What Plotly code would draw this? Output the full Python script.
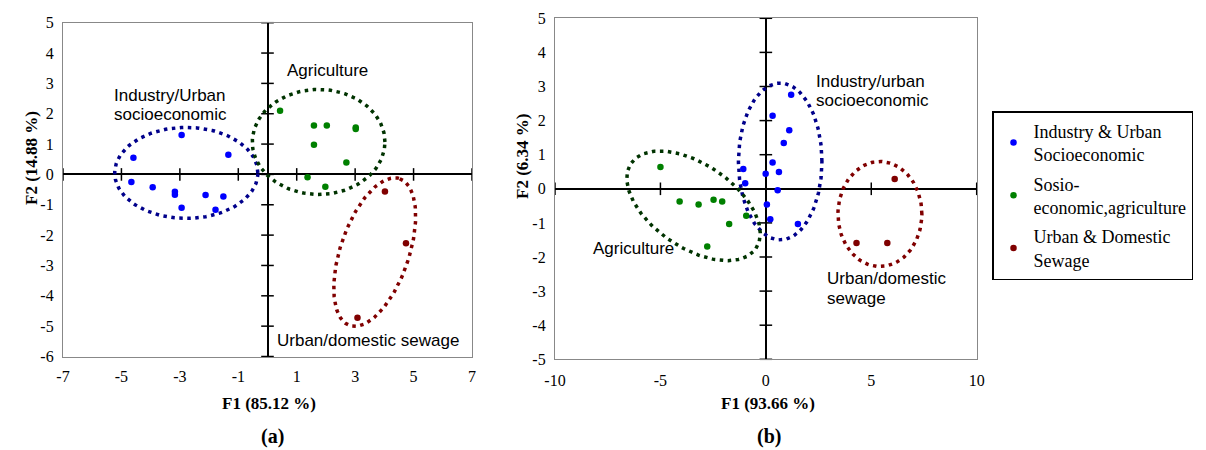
import numpy as np
import plotly.graph_objects as go

# ---------------- data ----------------
# Panel (a)
a_ind_x = [-4.59, -2.94, -1.34, -4.66, -3.93, -3.17, -3.17, -2.12, -1.51, -2.94, -1.78]
a_ind_y = [0.55, 1.30, 0.65, -0.25, -0.42, -0.57, -0.67, -0.68, -0.73, -1.10, -1.16]
a_agr_x = [0.43, 1.59, 2.03, 3.02, 3.02, 1.59, 2.70, 1.37, 1.98]
a_agr_y = [2.10, 1.61, 1.61, 1.55, 1.50, 0.98, 0.39, -0.09, -0.41]
a_sew_x = [4.02, 4.74, 3.08]
a_sew_y = [-0.56, -2.27, -4.72]

# Panel (b)
b_ind_x = [1.20, 0.32, 1.11, 0.85, 0.32, 0.62, -0.01, -1.07, -0.98, 0.56, 0.05, 0.21, 1.52]
b_ind_y = [2.76, 2.14, 1.72, 1.34, 0.77, 0.49, 0.44, 0.58, 0.16, -0.04, -0.46, -0.89, -1.03]
b_agr_x = [-5.00, -4.09, -3.19, -2.48, -2.07, -1.74, -0.93, -2.78]
b_agr_y = [0.64, -0.37, -0.46, -0.32, -0.37, -1.03, -0.79, -1.69]
b_sew_x = [6.11, 4.30, 5.76]
b_sew_y = [0.29, -1.59, -1.59]

series_names = ["Industry & Urban<br>Socioeconomic",
                "Sosio-<br>economic,agriculture",
                "Urban & Domestic<br>Sewage"]

# tick values
a_xticks = [-7, -5, -3, -1, 1, 3, 5, 7]
a_yticks = [-6, -5, -4, -3, -2, -1, 0, 1, 2, 3, 4, 5]
b_xticks = [-10, -5, 0, 5, 10]
b_yticks = [-5, -4, -3, -2, -1, 0, 1, 2, 3, 4, 5]

# cluster ellipses: centre and two half-axis vectors (data units)
a_ellipses = [(-2.78, 0.05, 2.45, 0.0, 0.0, 1.50),
              (1.75, 1.07, 2.27, 0.0, 0.0, 1.73),
              (3.67, -2.56, 0.856, 2.42, 1.11, -0.366)]
b_ellipses = [(0.68, 0.80, 1.98, 0.0, 0.0, 2.30),
              (-3.43, -0.50, 2.96, -1.25, 1.12, 1.01),
              (5.41, -0.74, 1.99, 0.0, 0.0, 1.54)]

point_colors = ["#0000FF", "#008000", "#800000"]
ring_colors = ["#00008B", "#003300", "#800000"]

SERIF = "Liberation Serif, Times New Roman, serif"
SANS = "Liberation Sans, Arial, sans-serif"

fig = go.Figure()


def lbl(v):
    return str(v)  # plain hyphen-minus, as in the reference


def add_panel(xs, ys, ellipses, xa, ya, showlegend):
    t = np.linspace(0, 2 * np.pi, 200)
    for (cx, cy, ax, ay, bx, by), col in zip(ellipses, ring_colors):
        ex = cx + ax * np.cos(t) + bx * np.sin(t)
        ey = cy + ay * np.cos(t) + by * np.sin(t)
        fig.add_trace(go.Scatter(x=ex, y=ey, mode="lines", xaxis=xa, yaxis=ya,
                                 line=dict(color=col, width=3.5, dash="3.5px,4.5px"),
                                 showlegend=False, hoverinfo="skip"))
    for (px, py), col, name in zip(zip(xs, ys), point_colors, series_names):
        fig.add_trace(go.Scatter(x=px, y=py, mode="markers", xaxis=xa, yaxis=ya,
                                 marker=dict(color=col, size=6.5),
                                 name=name, showlegend=showlegend,
                                 legendgroup=name))


def add_cross_ticks(xt, yt, xa, ya):
    fig.add_trace(go.Scatter(x=xt, y=[0] * len(xt), mode="markers", xaxis=xa, yaxis=ya,
                             marker=dict(symbol="line-ns-open", size=9, color="black",
                                         line=dict(color="black", width=1.5)),
                             showlegend=False, hoverinfo="skip", cliponaxis=False))
    fig.add_trace(go.Scatter(x=[0] * len(yt), y=yt, mode="markers", xaxis=xa, yaxis=ya,
                             marker=dict(symbol="line-ew-open", size=9, color="black",
                                         line=dict(color="black", width=1.5)),
                             showlegend=False, hoverinfo="skip", cliponaxis=False))


add_cross_ticks(a_xticks, a_yticks, "x", "y")
add_cross_ticks(b_xticks, b_yticks, "x2", "y2")
add_panel([a_ind_x, a_agr_x, a_sew_x], [a_ind_y, a_agr_y, a_sew_y], a_ellipses, "x", "y", True)
add_panel([b_ind_x, b_agr_x, b_sew_x], [b_ind_y, b_agr_y, b_sew_y], b_ellipses, "x2", "y2", False)

axis_common = dict(showgrid=False, zeroline=True, zerolinecolor="black", zerolinewidth=1.5,
                   showline=True, mirror=True, linecolor="#888888", linewidth=1.2,
                   ticks="outside", tickcolor="rgba(0,0,0,0)", automargin=False,
                   tickfont=dict(family=SERIF, size=16, color="black"))

fig.update_layout(
    width=1206, height=450, autosize=False,
    margin=dict(l=0, r=0, t=0, b=0, autoexpand=False),
    paper_bgcolor="white", plot_bgcolor="white",
    xaxis=dict(domain=[63 / 1206, 472 / 1206], range=[-7, 7], tickvals=a_xticks,
               ticktext=[lbl(v) for v in a_xticks],
               anchor="y", ticklen=5, **axis_common),
    yaxis=dict(domain=[1 - 356.5 / 450, 1 - 22.7 / 450], range=[-6, 5], tickvals=a_yticks,
               ticktext=[lbl(v) for v in a_yticks],
               anchor="x", ticklen=5, **axis_common),
    xaxis2=dict(domain=[555 / 1206, 976.7 / 1206], range=[-10, 10], tickvals=b_xticks,
                ticktext=[lbl(v) for v in b_xticks],
                anchor="y2", ticklen=6, **axis_common),
    yaxis2=dict(domain=[1 - 359.3 / 450, 1 - 18.3 / 450], range=[-5, 5], tickvals=b_yticks,
                ticktext=[lbl(v) for v in b_yticks],
                anchor="x2", ticklen=5, **axis_common),
    legend=dict(x=992 / 1206, y=1 - 111 / 450, xanchor="left", yanchor="top",
                bordercolor="black", borderwidth=1.5, bgcolor="white",
                font=dict(family=SERIF, size=18, color="black"),
                traceorder="grouped", tracegroupgap=3),
)

# in-plot cluster labels (one annotation per text line)
in_plot_labels = [
    ("x", "y", -5.31, 2.61, "Industry/Urban", "left"),
    ("x", "y", -5.31, 1.97, "socioeconomic", "left"),
    ("x", "y", 2.06, 3.43, "Agriculture", "center"),
    ("x", "y", 0.25, -5.48, "Urban/domestic sewage", "left"),
    ("x2", "y2", 2.26, 3.15, "Industry/urban", "left"),
    ("x2", "y2", 2.26, 2.59, "socioeconomic", "left"),
    ("x2", "y2", -8.28, -1.76, "Agriculture", "left"),
    ("x2", "y2", 2.82, -2.62, "Urban/domestic", "left"),
    ("x2", "y2", 2.82, -3.21, "sewage", "left"),
]
for xr, yr, x, y, txt, anc in in_plot_labels:
    fig.add_annotation(xref=xr, yref=yr, x=x, y=y, text=txt, showarrow=False,
                       xanchor=anc, yanchor="middle",
                       font=dict(family=SANS, size=17, color="black"))

# axis titles and panel labels: (x px, y px, text, size, angle, y-anchor)
outer_labels = [
    (269, 403, "<b>F1 (85.12 %)</b>", 17, 0, "middle"),
    (768, 403, "<b>F1 (93.66 %)</b>", 17, 0, "middle"),
    (272, 450, "<b>(a)</b>", 20, 0, "bottom"),
    (769, 450, "<b>(b)</b>", 20, 0, "bottom"),
    (31, 158, "<b>F2 (14.88 %)</b>", 17, -90, "middle"),
    (522, 157, "<b>F2 (6.34 %)</b>", 17, -90, "middle"),
]
for px, py, txt, sz, ang, yanc in outer_labels:
    fig.add_annotation(xref="paper", yref="paper", x=px / 1206, y=1 - py / 450,
                       text=txt, showarrow=False, textangle=ang,
                       xanchor="center", yanchor=yanc,
                       font=dict(family=SERIF, size=sz, color="black"))

fig.write_html("out.html",
               config={"displayModeBar": False},
               post_script="document.body.style.margin='0';document.body.style.padding='0';"
                           "document.body.style.overflow='hidden';")
